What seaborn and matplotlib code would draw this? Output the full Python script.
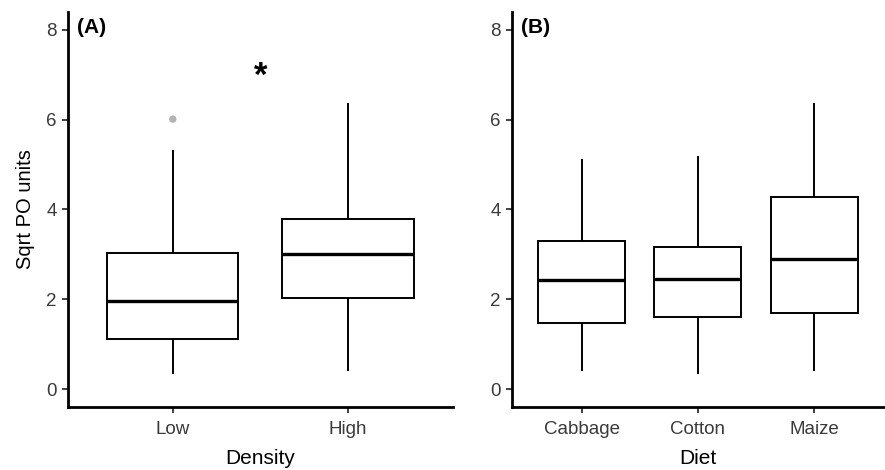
import numpy as np
import pandas as pd
import matplotlib
matplotlib.use("Agg")
import matplotlib.pyplot as plt
import seaborn as sns

# five-number summaries:
# lower whisker, Q1, median, Q3, upper whisker
density_levels = ["Low", "High"]
low_summary = [0.33, 1.11, 1.95, 3.04, 5.32]
high_summary = [0.41, 2.02, 3.01, 3.78, 6.36]
low_outliers = [6.01]
star_y = 7.12

diet_levels = ["Cabbage", "Cotton", "Maize"]
cabbage_summary = [0.41, 1.48, 2.43, 3.30, 5.13]
cotton_summary = [0.33, 1.60, 2.44, 3.17, 5.18]
maize_summary = [0.41, 1.70, 2.90, 4.28, 6.36]

y_ticks = [0, 2, 4, 6, 8]

density_df = pd.DataFrame({
    "Density": np.repeat(density_levels, 5),
    "po": low_summary + high_summary,
})
diet_df = pd.DataFrame({
    "Diet": np.repeat(diet_levels, 5),
    "po": cabbage_summary + cotton_summary + maize_summary,
})

sns.set_style("ticks")
plt.rcParams["font.family"] = ["Liberation Sans", "DejaVu Sans"]
plt.rcParams["text.color"] = "black"
plt.rcParams["axes.labelcolor"] = "black"

fig = plt.figure(figsize=(8.85, 4.7), dpi=100)
ax_a = fig.add_axes([0.0765, 0.134, 0.4354, 0.841])
ax_b = fig.add_axes([0.5782, 0.134, 0.4207, 0.841])

box_kw = dict(
    y="po", width=0.75, color="white", linecolor="black", linewidth=1.4,
    saturation=1, showfliers=False,
    medianprops=dict(linewidth=2.4), capprops=dict(linewidth=0),
)

sns.boxplot(data=density_df, x="Density", order=density_levels, ax=ax_a, **box_kw)
sns.boxplot(data=diet_df, x="Diet", order=diet_levels, ax=ax_b, **box_kw)

# outlier and significance mark on panel A
low_pos = density_levels.index("Low")
ax_a.scatter([low_pos] * len(low_outliers), low_outliers, s=28, color="#b3b3b3",
             edgecolor="none", zorder=3)
ax_a.text(0.5, star_y - 0.36, "*", ha="center", va="baseline", fontsize=25,
          fontweight="bold", color="black")

for ax, levels, label, tag in [(ax_a, density_levels, "Density", "(A)"),
                               (ax_b, diet_levels, "Diet", "(B)")]:
    ax.set_xlim(-0.6, len(levels) - 0.4)
    ax.set_ylim(-0.4, 8.4)
    ax.set_yticks(y_ticks)
    ax.set_xlabel(label, fontsize=15, labelpad=8)
    ax.set_ylabel("")
    sns.despine(ax=ax)
    for side in ["left", "bottom"]:
        ax.spines[side].set_linewidth(2.0)
        ax.spines[side].set_color("black")
    ax.tick_params(axis="both", labelsize=13.5, labelcolor="#3a3a3a",
                   length=4, width=1.3, color="#333333", pad=4)
    ax.tick_params(axis="x", pad=6)
    ax.text(0.024, 0.985, tag, transform=ax.transAxes, ha="left", va="top",
            fontsize=15, fontweight="bold")

ax_a.set_ylabel("Sqrt PO units", fontsize=14.5, labelpad=8)

fig.savefig("out.png", dpi=100)
